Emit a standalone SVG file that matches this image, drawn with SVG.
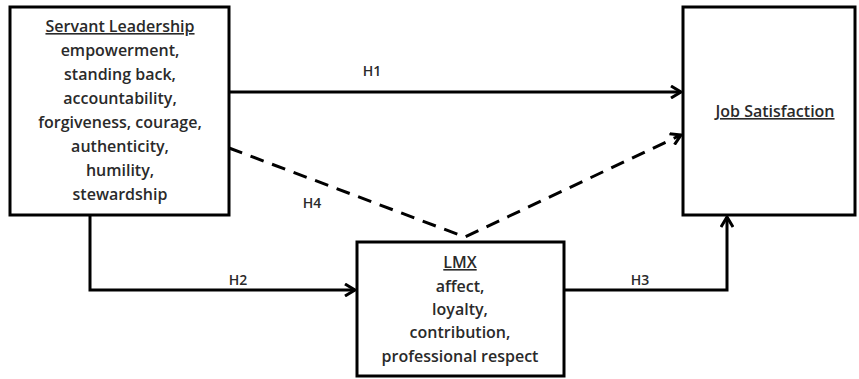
<svg xmlns="http://www.w3.org/2000/svg" width="859" height="379" viewBox="0 0 859 379">
<defs>
<style>
.box{fill:#fff;stroke:#000;stroke-width:3}
.t{font-family:"Open Sans","Liberation Sans",sans-serif;font-size:16px;font-weight:600;fill:#2a2a2a;text-anchor:middle}
.lbl{font-family:"Open Sans","Liberation Sans",sans-serif;font-size:14px;font-weight:600;fill:#2a2a2a;text-anchor:middle}
.c{fill:none;stroke:#000;stroke-width:3}
.d{fill:none;stroke:#000;stroke-width:3;stroke-dasharray:14 9}
</style>
<marker id="ah" markerWidth="14" markerHeight="14" refX="11" refY="7" orient="auto" markerUnits="userSpaceOnUse">
<path d="M1,1 L11,7 L1,13" fill="none" stroke="#000" stroke-width="3"/>
</marker>
</defs>
<rect width="859" height="379" fill="#fff"/>
<g id="connectors">
<line class="c" x1="229" y1="92" x2="681" y2="92" marker-end="url(#ah)"/>
<polyline class="d" points="229,148 465,237 681,135" marker-end="url(#ah)"/>
<polyline class="c" points="90,215 90,290 355,290" marker-end="url(#ah)"/>
<polyline class="c" points="564,290 727,290 727,217" marker-end="url(#ah)"/>
<text class="lbl" x="372" y="76">H1</text>
<text class="lbl" x="312" y="208">H4</text>
<text class="lbl" x="238" y="285">H2</text>
<text class="lbl" x="640" y="285">H3</text>
</g>
<g id="servant">
<rect class="box" x="10" y="7" width="219" height="208"/>
<text class="t" x="120" y="32" text-decoration="underline">Servant Leadership</text>
<text class="t" x="120" y="56">empowerment,</text>
<text class="t" x="120" y="80">standing back,</text>
<text class="t" x="120" y="104">accountability,</text>
<text class="t" x="120" y="128">forgiveness, courage,</text>
<text class="t" x="120" y="152">authenticity,</text>
<text class="t" x="120" y="176">humility,</text>
<text class="t" x="120" y="200">stewardship</text>
</g>
<g id="job">
<rect class="box" x="683" y="7" width="172" height="208"/>
<text class="t" x="775" y="117" text-decoration="underline">Job Satisfaction</text>
</g>
<g id="lmx">
<rect class="box" x="357" y="242" width="207" height="134"/>
<text class="t" x="460" y="268" text-decoration="underline">LMX</text>
<text class="t" x="460" y="292">affect,</text>
<text class="t" x="460" y="315">loyalty,</text>
<text class="t" x="460" y="338">contribution,</text>
<text class="t" x="460" y="362">professional respect</text>
</g>
</svg>
